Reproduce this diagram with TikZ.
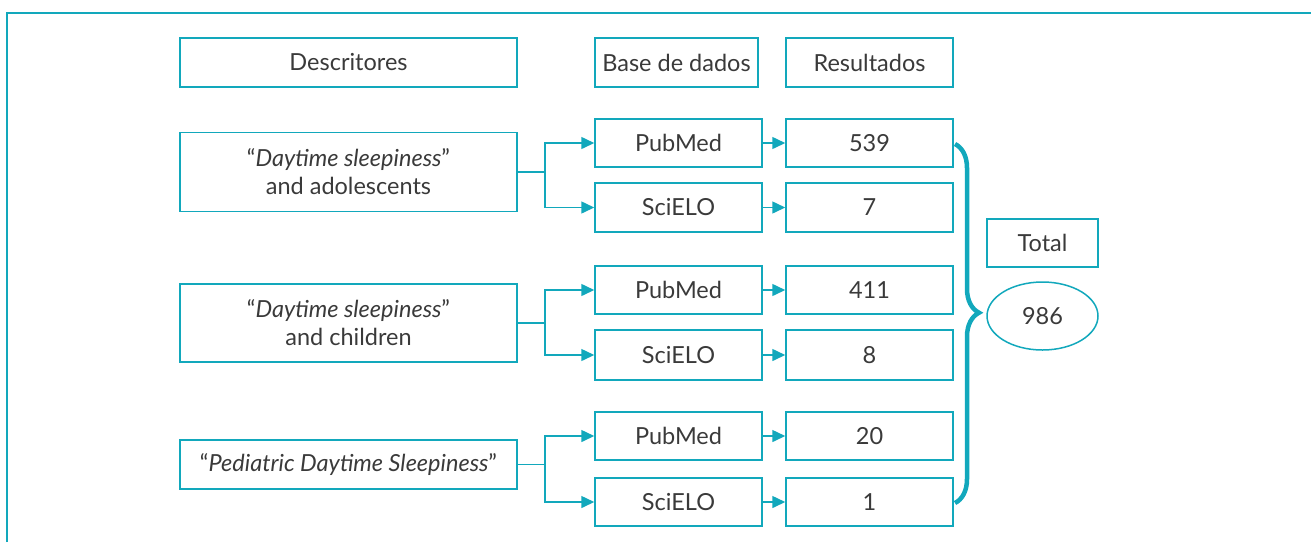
\documentclass[tikz,border=0pt]{standalone}
\usepackage{fontspec}
\setmainfont{Lato}
\usepackage{tikz}
\usetikzlibrary{arrows.meta,positioning,decorations.pathreplacing,shapes.geometric}

\definecolor{teal}{RGB}{18,168,188}
\definecolor{ink}{RGB}{58,58,58}

\tikzset{
    box/.style={draw=teal, line width=1.5pt, inner sep=0pt, text=ink,
        font=\fontsize{23.5}{28}\selectfont, align=center},
    arr/.style={draw=teal, line width=1.5pt, -{Triangle[length=13pt,width=12pt]}},
    link/.style={draw=teal, line width=1.5pt}
}

\begin{document}
\begin{tikzpicture}[x=1pt, y=-1pt]
        \useasboundingbox (0,0) rectangle (1311,542);
        \draw[teal, line width=2.5pt] (7,542) -- (7,13) -- (1311,13);

        % cabecalho
        \node[box, minimum width=337pt, minimum height=49pt] (hdesc) at (348.5,62.5) {Descritores};
        \node[box, minimum width=163pt, minimum height=49pt] (hbase) at (676.5,62.5) {Base de dados};
        \node[box, minimum width=167pt, minimum height=49pt] (hres) at (869.5,62.5) {Resultados};

        % descritores
        \node[box, minimum width=337pt, minimum height=79pt] (d1) at (348.5,172) {``\textit{Daytime sleepiness}''\\and adolescents};
        \node[box, minimum width=337pt, minimum height=78pt] (d2) at (348.5,323) {``\textit{Daytime sleepiness}''\\and children};
        \node[box, minimum width=337pt, minimum height=49pt] (d3) at (348.5,464.5) {``\textit{Pediatric Daytime Sleepiness}''};

        % bases
        \node[box, minimum width=167pt, minimum height=48pt] (p1) at (678.5,143) {PubMed};
        \node[box, minimum width=167pt, minimum height=49pt] (s1) at (678.5,207.5) {SciELO};
        \node[box, minimum width=167pt, minimum height=48pt] (p2) at (678.5,290) {PubMed};
        \node[box, minimum width=167pt, minimum height=50pt] (s2) at (678.5,355) {SciELO};
        \node[box, minimum width=167pt, minimum height=48pt] (p3) at (678.5,436) {PubMed};
        \node[box, minimum width=167pt, minimum height=48pt] (s3) at (678.5,502) {SciELO};

        % resultados
        \node[box, minimum width=167pt, minimum height=48pt] (r1) at (869.5,143) {539};
        \node[box, minimum width=167pt, minimum height=49pt] (r2) at (869.5,207.5) {7};
        \node[box, minimum width=167pt, minimum height=48pt] (r3) at (869.5,290) {411};
        \node[box, minimum width=167pt, minimum height=50pt] (r4) at (869.5,355) {8};
        \node[box, minimum width=167pt, minimum height=48pt] (r5) at (869.5,436) {20};
        \node[box, minimum width=167pt, minimum height=48pt] (r6) at (869.5,502) {1};

        % bifurcacoes
        \coordinate (f1) at (545,172);
        \coordinate (f2) at (545,323);
        \coordinate (f3) at (545,464.5);
        \draw[link] (d1.east) -- (f1);
        \draw[link] (d2.east) -- (f2);
        \draw[link] (d3.east) -- (f3);
        \draw[arr] (f1) |- (p1.west);
        \draw[arr] (f1) |- (s1.west);
        \draw[arr] (f2) |- (p2.west);
        \draw[arr] (f2) |- (s2.west);
        \draw[arr] (f3) |- (p3.west);
        \draw[arr] (f3) |- (s3.west);

        \draw[arr] (p1) -- (r1);
        \draw[arr] (s1) -- (r2);
        \draw[arr] (p2) -- (r3);
        \draw[arr] (s2) -- (r4);
        \draw[arr] (p3) -- (r5);
        \draw[arr] (s3) -- (r6);

        % total
        \draw[teal, line width=4.5pt, decorate,
            decoration={brace, amplitude=24pt, aspect=0.47}] (955,144) -- (955,503);
        \node[box, minimum width=111pt, minimum height=48pt] (tot) at (1042.5,243) {Total};
        \node[box, ellipse, minimum width=111pt, minimum height=68pt] (sum) at (1042.5,316) {986};
    \end{tikzpicture}
\end{document}
